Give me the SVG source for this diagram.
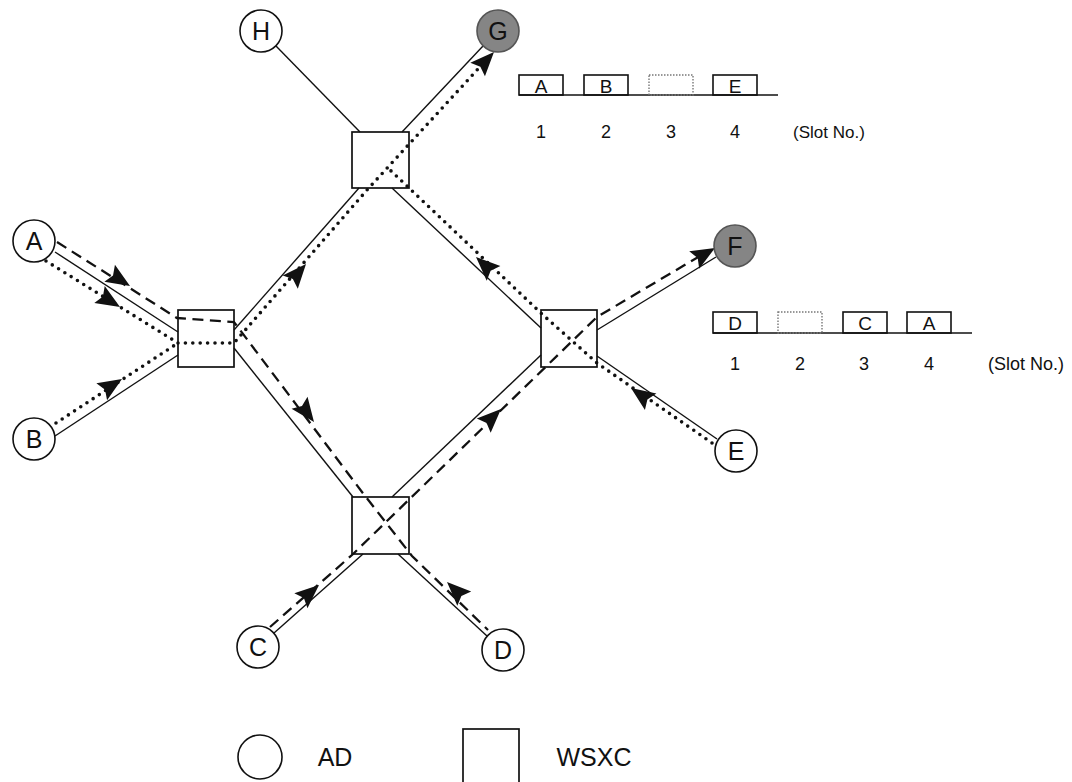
<svg xmlns="http://www.w3.org/2000/svg" width="1072" height="782" viewBox="0 0 1072 782">
<style>
.n{fill:#fff;stroke:#111;stroke-width:1.6}
.g{fill:#858585;stroke:#555;stroke-width:1.6}
.sq{fill:none;stroke:#111;stroke-width:1.7}
.t{font-family:"Liberation Sans",Arial,sans-serif;fill:#111;text-anchor:middle}
.s{stroke:#111;stroke-width:1.4;fill:none}
.dot{stroke:#111;stroke-width:3.6;fill:none;stroke-dasharray:0 7.4;stroke-linecap:round;stroke-linejoin:round}
.dash{stroke:#111;stroke-width:2.3;fill:none;stroke-dasharray:11 6.5}
.sb{fill:none;stroke:#111;stroke-width:1.6}
.sd{fill:none;stroke:#777;stroke-width:1.4;stroke-dasharray:1.5 1.5}
</style>
<defs>
<path id="ah" d="M0,0 L-24,-10 L-20,0 L-24,10 Z" fill="#111"/>
</defs>
<rect width="1072" height="782" fill="#fff"/>
<g id="connectors">
<line class="s" x1="276" y1="46" x2="360" y2="132"/>
<line class="s" x1="483" y1="46" x2="402" y2="132"/>
<line class="s" x1="55" y1="252" x2="178" y2="332"/>
<line class="s" x1="55" y1="436" x2="178" y2="355"/>
<line class="s" x1="234" y1="330" x2="359" y2="188"/>
<line class="s" x1="234" y1="348" x2="353" y2="497"/>
<line class="s" x1="392" y1="188" x2="541" y2="328"/>
<line class="s" x1="392" y1="497" x2="541" y2="355"/>
<line class="s" x1="597" y1="330" x2="716" y2="257"/>
<line class="s" x1="597" y1="356" x2="717" y2="439"/>
<line class="s" x1="363" y1="554" x2="274" y2="633"/>
<line class="s" x1="398" y1="554" x2="487" y2="636"/>
<polyline class="dot" points="46,261 178,343 234,343 367,190 489,57"/>
<polyline class="dot" points="56,423 178,343"/>
<polyline class="dot" points="712,443 597,363 543,315 389,169"/>
<polyline class="dash" points="57,242 177,318 234,322 362,492 412,556 488,630"/>
<polyline class="dash" points="270,627 352,555 597,317 710,250"/>
<use href="#ah" transform="translate(130,286) rotate(32)"/>
<use href="#ah" transform="translate(120,307) rotate(31.4)"/>
<use href="#ah" transform="translate(122,379) rotate(-32.3)"/>
<use href="#ah" transform="translate(306,264) rotate(-49)"/>
<use href="#ah" transform="translate(494,52) rotate(-47)"/>
<use href="#ah" transform="translate(631,388) rotate(-145)"/>
<use href="#ah" transform="translate(476,257) rotate(-137)"/>
<use href="#ah" transform="translate(314,422) rotate(53)"/>
<use href="#ah" transform="translate(447,582) rotate(-136)"/>
<use href="#ah" transform="translate(319,585) rotate(-41)"/>
<use href="#ah" transform="translate(501,409) rotate(-44)"/>
<use href="#ah" transform="translate(715,248) rotate(-30)"/>
</g>
<g id="node-H"><circle class="n" cx="261" cy="31" r="21"/><text class="t" x="261" y="40" font-size="25">H</text></g>
<g id="node-G"><circle class="g" cx="498" cy="31" r="21"/><text class="t" x="498" y="40" font-size="25">G</text></g>
<g id="node-A"><circle class="n" cx="34" cy="241" r="21"/><text class="t" x="34" y="250" font-size="25">A</text></g>
<g id="node-B"><circle class="n" cx="34" cy="439" r="21"/><text class="t" x="34" y="448" font-size="25">B</text></g>
<g id="node-C"><circle class="n" cx="258" cy="647" r="21"/><text class="t" x="258" y="656" font-size="25">C</text></g>
<g id="node-D"><circle class="n" cx="503" cy="650" r="21"/><text class="t" x="503" y="659" font-size="25">D</text></g>
<g id="node-E"><circle class="n" cx="736" cy="451" r="21"/><text class="t" x="736" y="460" font-size="25">E</text></g>
<g id="node-F"><circle class="g" cx="735" cy="246" r="21"/><text class="t" x="735" y="255" font-size="25">F</text></g>
<g id="wsxc-top"><rect class="sq" x="352" y="132" width="57" height="56"/></g>
<g id="wsxc-left"><rect class="sq" x="178" y="310" width="56" height="57"/></g>
<g id="wsxc-right"><rect class="sq" x="541" y="310" width="56" height="57"/></g>
<g id="wsxc-bottom"><rect class="sq" x="352" y="497" width="57" height="57"/></g>
<g id="slots-top">
<line class="s" x1="519" y1="95" x2="778" y2="95"/>
<rect class="sb" x="519" y="75" width="44" height="20"/>
<rect class="sb" x="584" y="75" width="44" height="20"/>
<rect class="sd" x="649" y="75" width="44" height="20"/>
<rect class="sb" x="713" y="75" width="44" height="20"/>
<text class="t" x="541" y="93" font-size="19">A</text>
<text class="t" x="606" y="93" font-size="19">B</text>
<text class="t" x="735" y="93" font-size="19">E</text>
<text class="t" x="541" y="138" font-size="18">1</text>
<text class="t" x="606" y="138" font-size="18">2</text>
<text class="t" x="671" y="138" font-size="18">3</text>
<text class="t" x="735" y="138" font-size="18">4</text>
<text class="t" x="829" y="138" font-size="17">(Slot No.)</text>
</g>
<g id="slots-right">
<line class="s" x1="713" y1="333" x2="972" y2="333"/>
<rect class="sb" x="713" y="312" width="44" height="21"/>
<rect class="sd" x="778" y="312" width="44" height="21"/>
<rect class="sb" x="843" y="312" width="44" height="21"/>
<rect class="sb" x="907" y="312" width="44" height="21"/>
<text class="t" x="735" y="330" font-size="19">D</text>
<text class="t" x="865" y="330" font-size="19">C</text>
<text class="t" x="929" y="330" font-size="19">A</text>
<text class="t" x="735" y="370" font-size="18">1</text>
<text class="t" x="800" y="370" font-size="18">2</text>
<text class="t" x="864" y="370" font-size="18">3</text>
<text class="t" x="929" y="370" font-size="18">4</text>
<text class="t" x="1026" y="370" font-size="18">(Slot No.)</text>
</g>
<g id="legend">
<circle class="n" cx="260" cy="757" r="22"/>
<text class="t" x="335" y="766" font-size="25">AD</text>
<rect class="sq" x="463" y="729" width="56" height="56"/>
<text class="t" x="594" y="766" font-size="25">WSXC</text>
</g>
</svg>
